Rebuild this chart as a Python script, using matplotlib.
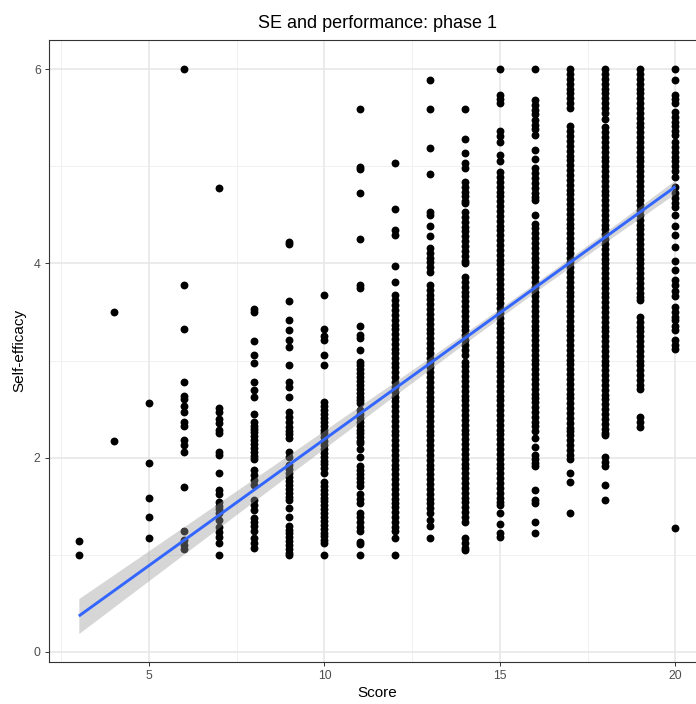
import numpy as np
import matplotlib
matplotlib.use("Agg")
import matplotlib.pyplot as plt
from matplotlib.ticker import MultipleLocator

plt.rcParams['font.family'] = ['Liberation Sans', 'DejaVu Sans']

# self-efficacy values per score (solid stacks approximated)
scores = [3, 4, 5, 6, 7, 8, 9, 10, 11, 12, 13, 14, 15, 16, 17, 18, 19, 20]

se_03 = [1.0, 1.14]
se_04 = [2.17, 3.5]
se_05 = [1.17, 1.39, 1.59, 1.95, 2.56]
se_06 = [6.0, 3.78, 3.33, 2.78, 2.64, 2.6, 2.53, 2.47, 2.37, 2.33, 2.18, 2.13, 2.06, 1.7,
	1.25, 1.15, 1.1, 1.06]
se_07 = [4.78, 2.51, 2.47, 2.4, 2.36, 2.29, 2.25, 2.06, 2.03, 1.84, 1.67, 1.63, 1.54, 1.5,
	1.47, 1.43, 1.36, 1.29, 1.24, 1.18, 1.12, 1.0]
se_08 = [3.53, 3.5, 3.2, 3.06, 2.98, 2.78, 2.7, 2.62, 2.45, 2.37, 2.33, 2.3, 2.26, 2.22,
	2.18, 2.14, 2.1, 2.06, 2.02, 1.99, 1.87, 1.82, 1.77, 1.72, 1.56, 1.51, 1.46, 1.38,
	1.34, 1.3, 1.25, 1.17, 1.12, 1.07]
se_09 = [4.22, 4.2, 3.61, 3.42, 3.31, 3.21, 3.14, 2.95, 2.78, 2.73, 2.62, 2.47, 2.42, 2.37,
	2.32, 2.28, 2.24, 2.2, 2.06, 2.01, 1.92, 1.88, 1.84, 1.8, 1.76, 1.72, 1.68, 1.64,
	1.6, 1.56, 1.48, 1.39, 1.3, 1.26, 1.22, 1.18, 1.14, 1.1, 1.06, 1.02, 1.0]
se_10 = [3.67, 3.33, 3.25, 3.21, 3.06, 2.95, 2.57, 2.53, 2.49, 2.45, 2.41, 2.37, 2.33, 2.29,
	2.25, 2.21, 2.17, 2.13, 2.09, 2.05, 2.01, 1.97, 1.94, 1.89, 1.84, 1.75, 1.71, 1.67,
	1.63, 1.59, 1.55, 1.51, 1.47, 1.43, 1.39, 1.35, 1.31, 1.27, 1.23, 1.19, 1.15, 1.12, 1.0]
se_11 = [5.59, 4.99, 4.97, 4.72, 4.25, 3.78, 3.75, 3.36, 3.26, 3.23, 3.11, 2.99, 2.95, 2.91,
	2.87, 2.83, 2.79, 2.75, 2.71, 2.67, 2.63, 2.59, 2.56, 2.49, 2.45, 2.41, 2.37, 2.33,
	2.29, 2.25, 2.21, 2.17, 2.15, 2.09, 2.01, 1.91, 1.87, 1.83, 1.79, 1.75, 1.71, 1.63,
	1.58, 1.53, 1.43, 1.39, 1.34, 1.29, 1.25, 1.13, 1.11, 1.0]
se_12 = [5.03, 4.56, 4.34, 4.29, 3.97, 3.81, 3.67, 3.62, 3.57, 3.52, 3.47, 3.42, 3.37, 3.32,
	3.27, 3.22, 3.17, 3.12, 3.08, 3.03, 2.98, 2.93, 2.88, 2.83, 2.78, 2.73, 2.68, 2.63,
	2.58, 2.53, 2.48, 2.43, 2.38, 2.33, 2.28, 2.23, 2.18, 2.13, 2.08, 2.03, 1.98, 1.93,
	1.88, 1.83, 1.78, 1.73, 1.68, 1.63, 1.58, 1.53, 1.49, 1.44, 1.39, 1.34, 1.29, 1.25,
	1.17, 1.0]
se_13 = [5.89, 5.59, 5.19, 4.92, 4.53, 4.5, 4.39, 4.28, 4.16, 4.11, 4.06, 4.01, 3.96, 3.91,
	3.78, 3.73, 3.68, 3.63, 3.58, 3.53, 3.48, 3.43, 3.38, 3.33, 3.28, 3.23, 3.18, 3.13,
	3.08, 3.03, 2.98, 2.93, 2.88, 2.83, 2.78, 2.73, 2.68, 2.63, 2.58, 2.53, 2.48, 2.43,
	2.38, 2.33, 2.28, 2.23, 2.18, 2.13, 2.08, 2.03, 1.98, 1.93, 1.88, 1.83, 1.78, 1.73,
	1.68, 1.63, 1.58, 1.53, 1.48, 1.43, 1.36, 1.3, 1.17]
se_14 = [5.59, 5.28, 5.14, 5.03, 4.98, 4.84, 4.79, 4.74, 4.69, 4.64, 4.62, 4.53, 4.48, 4.43,
	4.38, 4.33, 4.28, 4.23, 4.18, 4.13, 4.08, 4.03, 4.0, 3.86, 3.81, 3.76, 3.71, 3.66,
	3.61, 3.56, 3.51, 3.46, 3.41, 3.36, 3.31, 3.26, 3.21, 3.16, 3.11, 3.06, 2.99, 2.94,
	2.89, 2.84, 2.79, 2.74, 2.69, 2.64, 2.59, 2.54, 2.49, 2.44, 2.39, 2.34, 2.29, 2.24,
	2.19, 2.14, 2.09, 2.04, 1.99, 1.94, 1.89, 1.84, 1.79, 1.74, 1.69, 1.64, 1.59, 1.54,
	1.49, 1.44, 1.39, 1.34, 1.17, 1.12, 1.07, 1.05]
se_15 = [6.0, 5.73, 5.69, 5.65, 5.36, 5.31, 5.25, 5.12, 5.05, 4.94, 4.89, 4.84, 4.79, 4.74,
	4.69, 4.64, 4.59, 4.54, 4.49, 4.44, 4.39, 4.34, 4.29, 4.24, 4.19, 4.14, 4.09, 4.04,
	3.99, 3.94, 3.89, 3.84, 3.79, 3.74, 3.69, 3.64, 3.59, 3.54, 3.49, 3.44, 3.39, 3.34,
	3.29, 3.24, 3.19, 3.14, 3.09, 3.04, 2.99, 2.94, 2.89, 2.84, 2.79, 2.74, 2.69, 2.64,
	2.59, 2.54, 2.49, 2.44, 2.39, 2.34, 2.29, 2.24, 2.19, 2.14, 2.09, 2.04, 1.99, 1.94,
	1.89, 1.84, 1.79, 1.74, 1.69, 1.64, 1.59, 1.54, 1.51, 1.43, 1.32, 1.22, 1.18]
se_16 = [6.0, 5.68, 5.63, 5.58, 5.54, 5.48, 5.43, 5.38, 5.32, 5.17, 5.08, 4.98, 4.93, 4.88,
	4.83, 4.78, 4.73, 4.68, 4.65, 4.5, 4.41, 4.36, 4.31, 4.26, 4.21, 4.16, 4.11, 4.06,
	4.01, 3.96, 3.91, 3.86, 3.81, 3.76, 3.71, 3.66, 3.61, 3.56, 3.51, 3.46, 3.41, 3.36,
	3.31, 3.26, 3.21, 3.16, 3.11, 3.06, 3.01, 2.96, 2.91, 2.86, 2.81, 2.76, 2.71, 2.66,
	2.61, 2.57, 2.52, 2.47, 2.42, 2.37, 2.33, 2.28, 2.2, 2.11, 2.03, 1.99, 1.95, 1.91,
	1.67, 1.56, 1.53, 1.34, 1.23]
se_17 = [6.0, 5.95, 5.9, 5.85, 5.8, 5.75, 5.7, 5.65, 5.6, 5.41, 5.36, 5.31, 5.26, 5.21,
	5.16, 5.11, 5.06, 5.01, 4.96, 4.91, 4.86, 4.81, 4.76, 4.71, 4.66, 4.61, 4.56, 4.51,
	4.46, 4.41, 4.36, 4.31, 4.26, 4.21, 4.16, 4.11, 4.06, 4.01, 3.96, 3.91, 3.86, 3.81,
	3.76, 3.71, 3.66, 3.61, 3.56, 3.51, 3.46, 3.41, 3.36, 3.31, 3.26, 3.21, 3.16, 3.11,
	3.06, 3.01, 2.96, 2.91, 2.86, 2.81, 2.76, 2.71, 2.66, 2.61, 2.56, 2.51, 2.46, 2.41,
	2.36, 2.31, 2.28, 2.23, 2.18, 2.13, 2.08, 2.03, 1.99, 1.84, 1.75, 1.43]
se_18 = [6.0, 5.95, 5.9, 5.85, 5.8, 5.75, 5.7, 5.65, 5.6, 5.55, 5.49, 5.4, 5.35, 5.3,
	5.25, 5.2, 5.15, 5.1, 5.05, 5.0, 4.95, 4.9, 4.85, 4.8, 4.75, 4.7, 4.65, 4.6,
	4.55, 4.5, 4.45, 4.4, 4.35, 4.3, 4.25, 4.2, 4.15, 4.1, 4.05, 4.0, 3.95, 3.9,
	3.85, 3.8, 3.75, 3.7, 3.65, 3.6, 3.55, 3.5, 3.45, 3.4, 3.35, 3.3, 3.25, 3.2,
	3.15, 3.1, 3.05, 3.0, 2.95, 2.9, 2.85, 2.8, 2.75, 2.7, 2.65, 2.6, 2.55, 2.5,
	2.45, 2.4, 2.35, 2.3, 2.25, 2.23, 2.01, 1.96, 1.91, 1.72, 1.56]
se_19 = [6.0, 5.95, 5.9, 5.85, 5.8, 5.75, 5.7, 5.65, 5.6, 5.55, 5.5, 5.45, 5.4, 5.35,
	5.3, 5.25, 5.2, 5.15, 5.1, 5.05, 5.0, 4.95, 4.9, 4.85, 4.8, 4.75, 4.7, 4.65,
	4.6, 4.55, 4.5, 4.45, 4.4, 4.35, 4.3, 4.25, 4.2, 4.15, 4.1, 4.05, 4.0, 3.95,
	3.9, 3.85, 3.8, 3.75, 3.7, 3.65, 3.62, 3.45, 3.4, 3.35, 3.3, 3.25, 3.2, 3.15,
	3.1, 3.05, 3.0, 2.95, 2.9, 2.85, 2.8, 2.75, 2.71, 2.42, 2.37, 2.32]
se_20 = [6.0, 5.89, 5.73, 5.69, 5.65, 5.56, 5.51, 5.46, 5.41, 5.36, 5.32, 5.25, 5.2, 5.15,
	5.1, 5.05, 5.0, 4.95, 4.89, 4.79, 4.72, 4.67, 4.62, 4.58, 4.5, 4.39, 4.29, 4.17,
	4.02, 3.93, 3.83, 3.78, 3.72, 3.66, 3.55, 3.5, 3.45, 3.42, 3.36, 3.31, 3.21, 3.16,
	3.12, 1.28]

se_by_score = [se_03, se_04, se_05, se_06, se_07, se_08, se_09, se_10, se_11, se_12,
	se_13, se_14, se_15, se_16, se_17, se_18, se_19, se_20]

# linear fit as drawn (end points) and half-width of its confidence band
fit_x = [3, 20]
fit_y = [0.37, 4.79]
band_x = [3, 5, 8, 10, 12, 14, 16, 18, 20]
band_hw = [0.18, 0.154, 0.116, 0.092, 0.07, 0.052, 0.045, 0.052, 0.07]


x = []
y = []
for s, vals in zip(scores, se_by_score):
	x += [s] * len(vals)
	y += vals

fig = plt.figure(figsize=(6.96, 7.04), dpi=100)
ax = fig.add_axes([49.0 / 696, 42.3 / 704, 656.2 / 696, 621.7 / 704])

ax.scatter(x, y, s=32, color="black", linewidths=0, zorder=2)

mid = np.interp(band_x, fit_x, fit_y)
ax.fill_between(band_x, mid - np.array(band_hw), mid + np.array(band_hw),
	color="#999999", alpha=0.4, linewidth=0, zorder=3)
ax.plot(fit_x, fit_y, color="#3366FF", linewidth=2.1, solid_capstyle="butt", zorder=4)

ax.set_xlim(2.15, 20.85)
ax.set_ylim(-0.10, 6.30)
ax.set_xticks([5, 10, 15, 20])
ax.set_yticks([0, 2, 4, 6])
ax.xaxis.set_minor_locator(MultipleLocator(2.5))
ax.yaxis.set_minor_locator(MultipleLocator(1))

ax.set_axisbelow(True)
ax.grid(which="major", color="#E6E6E6", linewidth=1.1)
ax.grid(which="minor", color="#F0F0F0", linewidth=0.7)
ax.tick_params(which="major", length=3, width=0.7, color="#333333",
	labelcolor="#4D4D4D", labelsize=8.8, pad=3)
ax.tick_params(which="minor", length=0)
for sp in ax.spines.values():
	sp.set_color("#333333")
	sp.set_linewidth(0.8)

ax.set_title("SE and performance: phase 1", fontsize=13, pad=9)
ax.set_xlabel("Score", fontsize=11, labelpad=3)
ax.set_ylabel("Self-efficacy", fontsize=11, labelpad=5)

fig.savefig("out.png", dpi=100)
